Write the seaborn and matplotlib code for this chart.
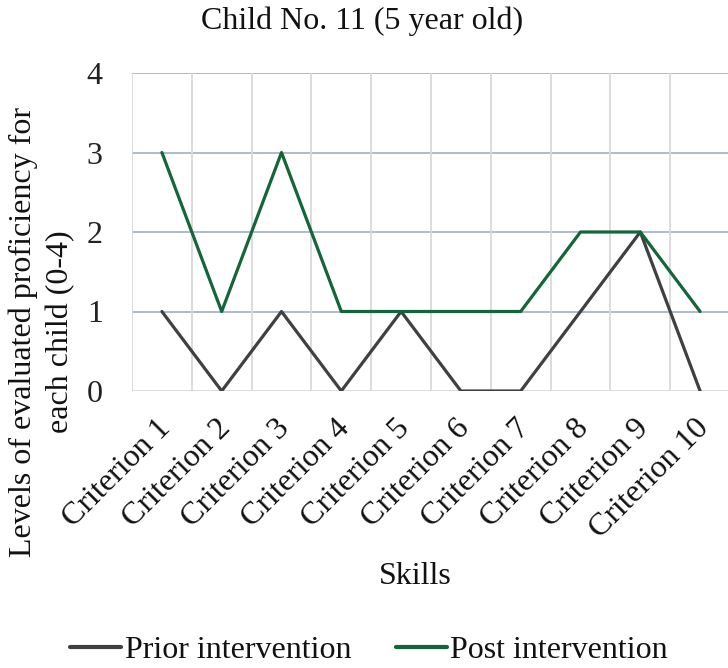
import matplotlib
matplotlib.use("Agg")
import matplotlib.pyplot as plt
import matplotlib.transforms as mtransforms
import pandas as pd
import seaborn as sns

criteria = [f"Criterion {i}" for i in range(1, 11)]
prior = [1, 0, 1, 0, 1, 0, 0, 1, 2, 0]
post = [3, 1, 3, 1, 1, 1, 1, 2, 2, 1]
series_names = ["Prior intervention", "Post intervention"]
y_ticks = [0, 1, 2, 3, 4]

df = pd.DataFrame({"Skills": criteria * 2,
                   "Level": prior + post,
                   "Series": [series_names[0]] * 10 + [series_names[1]] * 10})

sns.set_style("white")
plt.rcParams["font.family"] = ["Liberation Serif", "DejaVu Serif"]
plt.rcParams["text.color"] = "#111111"

fig = plt.figure(figsize=(7.28, 6.68), dpi=100)
ax = fig.add_axes([132 / 728, 1 - 391 / 668, 598 / 728, 318 / 668])

palette = {"Prior intervention": "#404040", "Post intervention": "#12663A"}
sns.lineplot(data=df, x="Skills", y="Level", hue="Series", palette=palette,
             linewidth=2.3, sort=False, ax=ax, legend=False)

ax.set_xlim(-0.5, 9.5)
ax.set_ylim(0, 4)
ax.set_yticks(y_ticks)
ax.set_xticks(range(10))
ax.set_xticklabels(criteria, rotation=45, ha="right", rotation_mode="anchor",
                   fontsize=23)
ax.tick_params(axis="y", labelsize=23, length=0, pad=21, labelcolor="#222222")
ax.tick_params(axis="x", length=0, pad=14, labelcolor="#111111")

# nudge the slanted labels a bit left/down
offset = mtransforms.ScaledTranslation(-6 / 100, -3 / 100, fig.dpi_scale_trans)
for lab in ax.get_xticklabels():
    lab.set_transform(lab.get_transform() + offset)

ax.grid(False)
for y in y_ticks[1:]:
    ax.axhline(y, color="#AAB4C6", lw=1.3, zorder=0)
for i in range(10):
    ax.axvline(i - 0.5, color="#D9D9D9", lw=1.3, zorder=0)
ax.axhline(0, color="#D9D9D9", lw=1.3, zorder=0)
for s in ax.spines.values():
    s.set_visible(False)

ax.set_xlabel("")
ax.set_ylabel("")
fig.text(362 / 728, 1 - 21 / 668, "Child No. 11 (5 year old)", ha="center",
         va="center", fontsize=23)
fig.text(415 / 728, 1 - 577 / 668, "Skills", ha="center", va="center",
         fontsize=23)
fig.text(42 / 728, 1 - 332 / 668,
         "Levels of evaluated proficiency for\neach child (0-4)",
         ha="center", va="center", rotation=90, fontsize=23,
         linespacing=1.35)

handles = [plt.Line2D([], [], color=palette[n], lw=3) for n in series_names]
fig.legend(handles, series_names, loc="center", ncol=2, frameon=False,
           bbox_to_anchor=(369 / 728, 1 - 650 / 668), fontsize=23,
           handlelength=1.6, handletextpad=0.1, columnspacing=1.4)

fig.savefig("out.png", dpi=100)
